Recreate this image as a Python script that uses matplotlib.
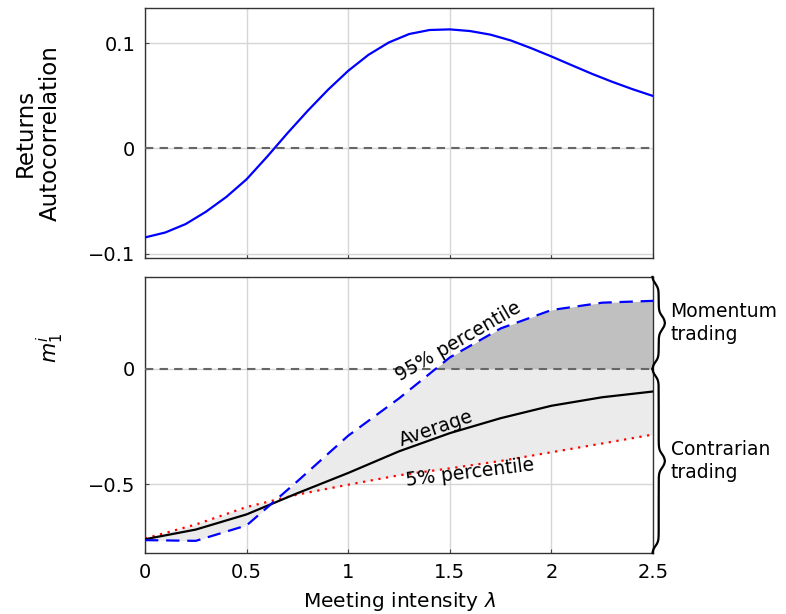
import numpy as np
import matplotlib
matplotlib.use("Agg")
import matplotlib.pyplot as plt
from matplotlib.lines import Line2D

plt.rcParams['font.family'] = ['DejaVu Sans']
plt.rcParams['mathtext.fontset'] = 'dejavusans'

# top panel: returns autocorrelation vs meeting intensity
lam_top = [0.0, 0.1, 0.2, 0.3, 0.4, 0.5, 0.6, 0.7, 0.8, 0.9, 1.0, 1.1, 1.2,
           1.3, 1.4, 1.5, 1.6, 1.7, 1.8, 1.9, 2.0, 2.1, 2.2, 2.3, 2.4, 2.5]
autocorr = [-0.0844, -0.0797, -0.0717, -0.0600, -0.0460, -0.0292, -0.0080,
            0.0143, 0.0356, 0.0556, 0.0737, 0.0889, 0.1006, 0.1086, 0.1124,
            0.1130, 0.1114, 0.1080, 0.1025, 0.0952, 0.0873, 0.0790, 0.0708,
            0.0632, 0.0562, 0.0498]

# bottom panel: m_1^i statistics
lam_bot = [0.0, 0.25, 0.5, 0.75, 1.0, 1.25, 1.5, 1.75, 2.0, 2.25, 2.5]
p95 = [-0.744, -0.747, -0.680, -0.488, -0.290, -0.128, 0.050, 0.176, 0.256, 0.288, 0.296]
avg = [-0.740, -0.698, -0.632, -0.540, -0.452, -0.358, -0.279, -0.214, -0.160, -0.123, -0.098]
p5 = [-0.737, -0.676, -0.600, -0.546, -0.503, -0.462, -0.432, -0.400, -0.362, -0.324, -0.285]

xticks = [0, 0.5, 1, 1.5, 2, 2.5]
xticklabels = ['0', '0.5', '1', '1.5', '2', '2.5']

fig = plt.figure(figsize=(7.86, 6.14), dpi=100)
ax1 = fig.add_axes([0.1845, 0.580, 0.6463, 0.407])
ax2 = fig.add_axes([0.1845, 0.0993, 0.6463, 0.4497])

gridc = '#d6d6d6'
for ax in (ax1, ax2):
    ax.set_xlim(0, 2.5)
    ax.set_xticks(xticks)
    ax.grid(True, color=gridc, lw=1.0)
    ax.set_axisbelow(True)
    ax.tick_params(direction='in', length=3, color='#444444', labelsize=14, pad=7)
    for s in ax.spines.values():
        s.set_color('#333333')
        s.set_linewidth(1.0)
    ax.axhline(0, color='#666666', lw=1.5, ls=(0, (4, 3)), zorder=3)

# top
ax1.plot(lam_top, autocorr, color='#0000ff', lw=1.6, zorder=4)
ax1.set_ylim(-0.1038, 0.1333)
ax1.set_yticks([-0.1, 0, 0.1])
ax1.set_yticklabels(['\u22120.1', '0', '0.1'])
ax1.set_xticklabels([])
ax1.set_ylabel('Returns\nAutocorrelation', fontsize=16.5, linespacing=1.15)
ax1.yaxis.set_label_coords(-0.163, 0.5)

# bottom
lb = np.array(lam_bot)
hi = np.array(p95)
lo = np.array(p5)
ax2.fill_between(lb, hi, lo, color='#ebebeb', lw=0, zorder=1)
ax2.fill_between(lb, 0, hi, where=hi >= 0, interpolate=True, color='#c0c0c0', lw=0, zorder=2)
ax2.plot(lam_bot, p5, color='#ff0000', lw=1.6, ls=(0, (1, 2.5)), zorder=4)
ax2.plot(lam_bot, avg, color='black', lw=1.6, zorder=4)
ax2.plot(lam_bot, p95, color='#0000ff', lw=1.6, ls=(0, (6, 3.5)), zorder=4)
ax2.set_ylim(-0.8, 0.4)
ax2.set_yticks([-0.5, 0])
ax2.set_yticklabels(['\u22120.5', '0'])
ax2.set_xticklabels(xticklabels)
ax2.set_xlabel(r'Meeting intensity $\lambda$', fontsize=14.5, labelpad=6)
ax2.set_ylabel(r'$m_1^i$', fontsize=15)
ax2.yaxis.set_label_coords(-0.155, 0.743)

ax2.text(1.54, 0.118, '95% percentile', rotation=30, fontsize=13.5,
         ha='center', va='center', zorder=5)
ax2.text(1.435, -0.257, 'Average', rotation=19, fontsize=13.5,
         ha='center', va='center', zorder=5)
ax2.text(1.6, -0.45, '5% percentile', rotation=7, fontsize=13.5,
         ha='center', va='center', zorder=5)


def brace(ax, y0, y1, x_off=6, w=13, r=7):
    # curly brace on the right side of ax, between data y0 and y1
    xr = ax.transAxes.transform((1, 0))[0] + x_off
    p0 = ax.transData.transform((0, y0))[1]
    p1 = ax.transData.transform((0, y1))[1]
    top, bot = max(p0, p1), min(p0, p1)
    L = (top - bot) / 2.0
    d = np.linspace(0, L, 300)
    sig = lambda z: 1.0 / (1.0 + np.exp(-z))
    xo = (w / 2.0) * (sig((d - r) / (r / 3.0)) + sig((d - (L - r)) / (r / 3.0)))
    xo = xo - xo[0]
    xs = np.concatenate([xr - w / 2.0 + xo, (xr - w / 2.0 + xo)[::-1]])
    ys = np.concatenate([bot + d, top - d[::-1]])
    pts = fig.transFigure.inverted().transform(np.column_stack([xs, ys]))
    fig.add_artist(Line2D(pts[:, 0], pts[:, 1], color='black', lw=1.6,
                          transform=fig.transFigure))
    return fig.transFigure.inverted().transform((xr + w / 2.0 + 5, (top + bot) / 2.0))


pos = brace(ax2, 0, 0.4)
fig.text(pos[0], pos[1], 'Momentum\ntrading', fontsize=13.5, ha='left', va='center', linespacing=1.25)
pos = brace(ax2, -0.8, 0)
fig.text(pos[0], pos[1], 'Contrarian\ntrading', fontsize=13.5, ha='left', va='center', linespacing=1.25)

fig.savefig('out.png', dpi=100)
